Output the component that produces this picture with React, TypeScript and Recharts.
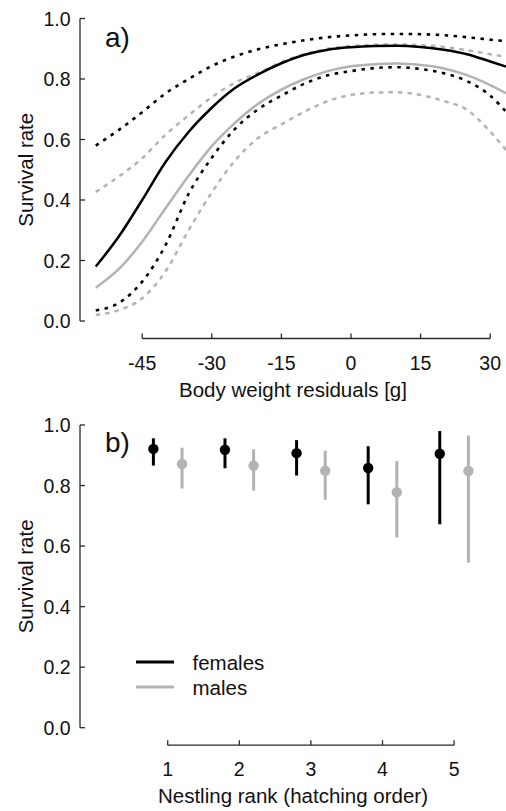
import React from "react";
import {
  LineChart,
  Line,
  ScatterChart,
  Scatter,
  ErrorBar,
  XAxis,
  YAxis,
  ReferenceLine,
  Legend,
} from "recharts";

const FONT = '"Liberation Sans", Arial, Helvetica, sans-serif';
const BLACK = "#000000";
const GREY = "#b3b3b3";
const AXIS = "#2b2b2b";
const TEXT = "#111111";

// ---- panel a) survival vs body weight residuals ----
const weightResid = [-55, -50, -45, -40, -35, -30, -25, -20, -15, -10, -5, 0, 5, 10, 15, 20, 25, 30, 33.4];
const femaleFit = [0.18, 0.28, 0.4, 0.525, 0.625, 0.705, 0.77, 0.815, 0.852, 0.88, 0.897, 0.905, 0.909, 0.91, 0.906, 0.897, 0.882, 0.858, 0.841];
const femaleLow = [0.035, 0.06, 0.13, 0.25, 0.42, 0.54, 0.635, 0.7, 0.745, 0.785, 0.812, 0.826, 0.836, 0.839, 0.833, 0.819, 0.793, 0.745, 0.692];
const femaleHigh = [0.58, 0.632, 0.69, 0.752, 0.8, 0.843, 0.875, 0.898, 0.915, 0.928, 0.938, 0.944, 0.948, 0.949, 0.948, 0.945, 0.938, 0.93, 0.925];
const maleFit = [0.11, 0.172, 0.262, 0.372, 0.48, 0.578, 0.655, 0.718, 0.765, 0.8, 0.826, 0.842, 0.849, 0.851, 0.846, 0.835, 0.813, 0.78, 0.753];
const maleLow = [0.02, 0.036, 0.075, 0.163, 0.3, 0.425, 0.53, 0.605, 0.65, 0.692, 0.727, 0.747, 0.755, 0.756, 0.747, 0.727, 0.698, 0.626, 0.565];
const maleHigh = [0.427, 0.478, 0.538, 0.615, 0.68, 0.74, 0.788, 0.82, 0.856, 0.882, 0.9, 0.909, 0.913, 0.914, 0.912, 0.906, 0.895, 0.882, 0.874];
const weightTicks = [-45, -30, -15, 0, 15, 30];

// ---- panel b) survival by nestling rank ----
const ranks = [1, 2, 3, 4, 5];
const femaleRate = [0.921, 0.918, 0.907, 0.858, 0.905];
const femaleRateLow = [0.866, 0.857, 0.833, 0.738, 0.672];
const femaleRateHigh = [0.956, 0.956, 0.95, 0.93, 0.98];
const maleRate = [0.871, 0.866, 0.849, 0.778, 0.848];
const maleRateLow = [0.79, 0.783, 0.753, 0.628, 0.545];
const maleRateHigh = [0.925, 0.92, 0.915, 0.881, 0.965];
const rateTicks = [0, 0.2, 0.4, 0.6, 0.8, 1];

const DODGE = 0.2;
const AXIS_GAP = 17.5; // R style detached x axis
const PLOT_H = 302.6;
const axisY = -AXIS_GAP / PLOT_H;

const curveRows = weightResid.map((x, i) => ({
  x,
  fFit: femaleFit[i],
  fLo: femaleLow[i],
  fHi: femaleHigh[i],
  mFit: maleFit[i],
  mLo: maleLow[i],
  mHi: maleHigh[i],
}));

const femaleRows = ranks.map((r, i) => ({
  x: r - DODGE,
  y: femaleRate[i],
  err: [femaleRate[i] - femaleRateLow[i], femaleRateHigh[i] - femaleRate[i]],
}));
const maleRows = ranks.map((r, i) => ({
  x: r + DODGE,
  y: maleRate[i],
  err: [maleRate[i] - maleRateLow[i], maleRateHigh[i] - maleRate[i]],
}));

const XTick = ({ x, y, payload }: any) => (
  <g>
    <line x1={x} x2={x} y1={y + AXIS_GAP} y2={y + AXIS_GAP - 5} stroke={AXIS} strokeWidth={1.3} />
    <text x={x} y={y + 48.5} textAnchor="middle" fontSize={19.5} fontFamily={FONT} fill={TEXT}>
      {payload.value}
    </text>
  </g>
);

const YTick = ({ x, y, payload }: any) => (
  <g>
    <line x1={x} x2={x + 5} y1={y} y2={y} stroke={AXIS} strokeWidth={1.3} />
    <text x={x - 9.5} y={y} dy="0.36em" textAnchor="end" fontSize={19.5} fontFamily={FONT} fill={TEXT}>
      {Number(payload.value).toFixed(1)}
    </text>
  </g>
);

const xTitle = (text: string) => (props: any) => {
  const vb = props.viewBox;
  return (
    <text x={vb.x + vb.width / 2} y={vb.y + 75.5} textAnchor="middle" fontSize={20.5} fontFamily={FONT} fill={TEXT}>
      {text}
    </text>
  );
};

const yTitle = (props: any) => {
  const vb = props.viewBox;
  const bx = vb.x + 33;
  const cy = vb.y + vb.height / 2;
  return (
    <text x={bx} y={cy} transform={`rotate(-90, ${bx}, ${cy})`} textAnchor="middle" fontSize={20.5} fontFamily={FONT} fill={TEXT}>
      Survival rate
    </text>
  );
};

const Dot = (color: string) => (p: any) => <circle cx={p.cx} cy={p.cy} r={5.2} fill={color} />;

const SexLegend = ({ payload }: any) => (
  <div style={{ fontFamily: FONT, fontSize: 20.5, color: TEXT }}>
    {(payload || []).map((p: any) => (
      <div key={p.value} style={{ display: "flex", alignItems: "center", height: 25 }}>
        <svg width={38} height={6}>
          <line x1={0} x2={38} y1={3} y2={3} stroke={p.color} strokeWidth={3} />
        </svg>
        <span style={{ marginLeft: 18.5, position: "relative", top: 1 }}>{p.value}</span>
      </div>
    ))}
  </div>
);

export default function App() {
  return (
    <div style={{ position: "absolute", left: 0, top: 0, width: 506, height: 811, background: "#fff" }}>
      <div style={{ position: "absolute", left: 0, top: 0 }}>
        <LineChart width={506} height={406} data={curveRows} margin={{ top: 18.5, right: 0, bottom: 5, left: 0 }}>
          <XAxis
            dataKey="x"
            type="number"
            domain={[-58.4, 33.4]}
            allowDataOverflow
            ticks={weightTicks}
            axisLine={false}
            tickLine={false}
            tickSize={0}
            tickMargin={0}
            tick={<XTick />}
            height={80}
            label={xTitle("Body weight residuals [g]")}
          />
          <YAxis
            type="number"
            domain={[0, 1]}
            allowDataOverflow
            ticks={rateTicks}
            width={80}
            axisLine={{ stroke: AXIS, strokeWidth: 1.3 }}
            tickLine={false}
            tickSize={0}
            tickMargin={0}
            tick={<YTick />}
            label={yTitle}
          />
          <ReferenceLine
            segment={[{ x: weightTicks[0], y: axisY }, { x: weightTicks[weightTicks.length - 1], y: axisY }]}
            ifOverflow="visible"
            stroke={AXIS}
            strokeWidth={1.3}
          />
          <Line type="monotone" dataKey="mLo" stroke={GREY} strokeWidth={2.5} strokeDasharray="4.5 5" dot={false} isAnimationActive={false} />
          <Line type="monotone" dataKey="mHi" stroke={GREY} strokeWidth={2.5} strokeDasharray="4.5 5" dot={false} isAnimationActive={false} />
          <Line type="monotone" dataKey="mFit" stroke={GREY} strokeWidth={2.5} dot={false} isAnimationActive={false} />
          <Line type="monotone" dataKey="fLo" stroke={BLACK} strokeWidth={2.6} strokeDasharray="3.5 5.5" dot={false} isAnimationActive={false} />
          <Line type="monotone" dataKey="fHi" stroke={BLACK} strokeWidth={2.6} strokeDasharray="3.5 5.5" dot={false} isAnimationActive={false} />
          <Line type="monotone" dataKey="fFit" stroke={BLACK} strokeWidth={2.5} dot={false} isAnimationActive={false} />
          <text x={105} y={47} fontSize={28} fontFamily={FONT} fill={TEXT}>a)</text>
        </LineChart>
      </div>
      <div style={{ position: "absolute", left: 0, top: 406 }}>
        <ScatterChart width={506} height={405} margin={{ top: 19, right: 0, bottom: 3.3, left: 0 }}>
          <XAxis
            dataKey="x"
            type="number"
            domain={[-0.225, 5.725]}
            allowDataOverflow
            ticks={ranks}
            axisLine={false}
            tickLine={false}
            tickSize={0}
            tickMargin={0}
            tick={<XTick />}
            height={80}
            label={xTitle("Nestling rank (hatching order)")}
          />
          <YAxis
            dataKey="y"
            type="number"
            domain={[0, 1]}
            allowDataOverflow
            ticks={rateTicks}
            width={80}
            axisLine={{ stroke: AXIS, strokeWidth: 1.3 }}
            tickLine={false}
            tickSize={0}
            tickMargin={0}
            tick={<YTick />}
            label={yTitle}
          />
          <ReferenceLine
            segment={[{ x: ranks[0], y: axisY }, { x: ranks[ranks.length - 1], y: axisY }]}
            ifOverflow="visible"
            stroke={AXIS}
            strokeWidth={1.3}
          />
          <Scatter name="females" data={femaleRows} fill={BLACK} shape={Dot(BLACK)} isAnimationActive={false}>
            <ErrorBar dataKey="err" direction="y" width={0} stroke={BLACK} strokeWidth={3} isAnimationActive={false} />
          </Scatter>
          <Scatter name="males" data={maleRows} fill={GREY} shape={Dot(GREY)} isAnimationActive={false}>
            <ErrorBar dataKey="err" direction="y" width={0} stroke={GREY} strokeWidth={3} isAnimationActive={false} />
          </Scatter>
          <Legend
            layout="vertical"
            align="center"
            verticalAlign="middle"
            content={<SexLegend />}
            wrapperStyle={{ left: 136, top: 243, width: 200 }}
          />
          <text x={105} y={452} fontSize={28} fontFamily={FONT} fill={TEXT} transform="translate(0,-406)">b)</text>
        </ScatterChart>
      </div>
    </div>
  );
}
